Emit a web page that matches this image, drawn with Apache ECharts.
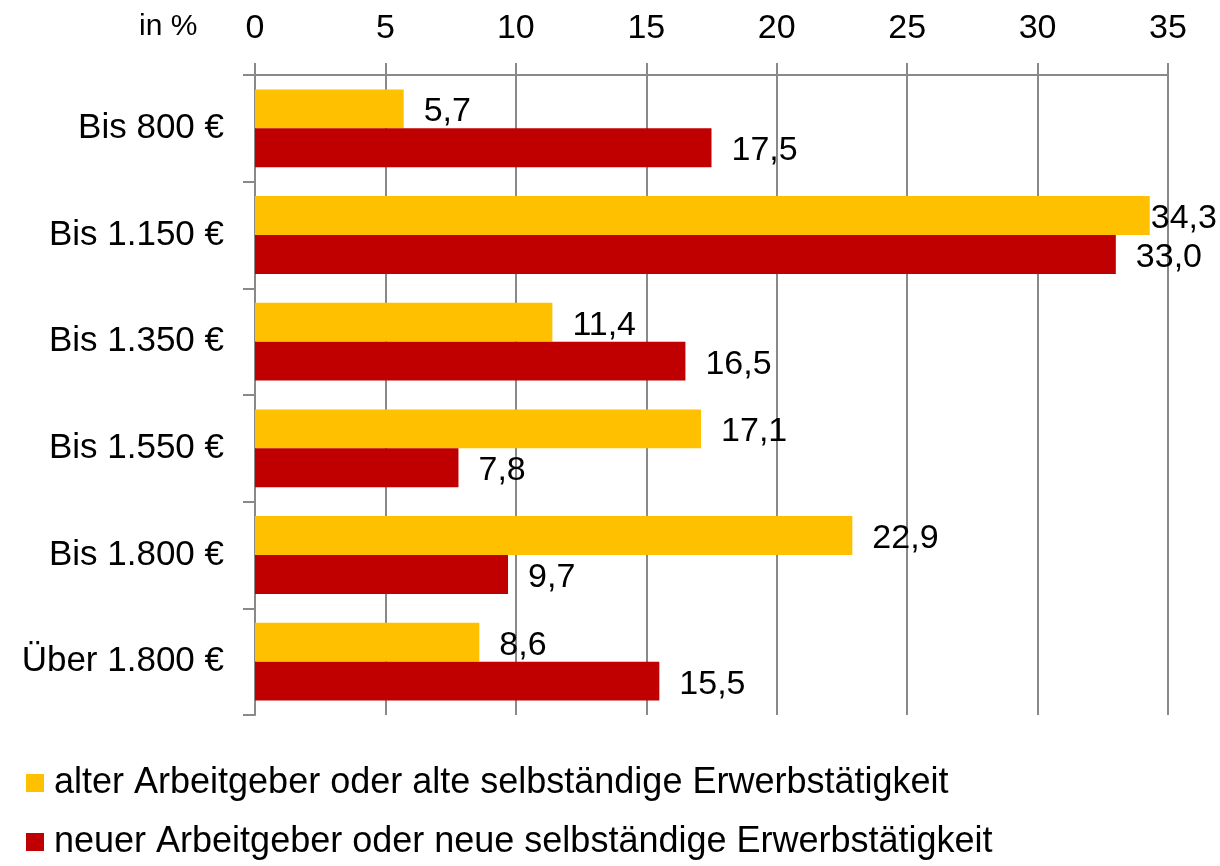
<!DOCTYPE html>
<html>
<head>
<meta charset="utf-8">
<title>Einkommen nach Arbeitgeber</title>
<script src="https://cdn.jsdelivr.net/npm/echarts@6/dist/echarts.min.js"></script>
<style>
    html, body { margin: 0; padding: 0; background: #ffffff; }
    #chart { width: 1220px; height: 866px; }
</style>
</head>
<body>
<div id="chart"></div>
<script>
// Income bands (top to bottom)
var categories = ['Bis 800 €', 'Bis 1.150 €', 'Bis 1.350 €', 'Bis 1.550 €', 'Bis 1.800 €', 'Über 1.800 €'];
var seriesNames = [
    'alter Arbeitgeber oder alte selbständige Erwerbstätigkeit',
    'neuer Arbeitgeber oder neue selbständige Erwerbstätigkeit'
];
var alterValues = [5.7, 34.3, 11.4, 17.1, 22.9, 8.6];
var neuerValues = [17.5, 33.0, 16.5, 7.8, 9.7, 15.5];
var axisTicks = [0, 5, 10, 15, 20, 25, 30, 35];

(function() {
    'use strict';

    var FONT = '"Liberation Sans", Arial, sans-serif';
    var GRAY = '#898989';

    function formatPct(v) {
        return v.toFixed(1).replace('.', ',');
    }

    // labels that would run past the plot edge sit tight against the bar
    function withLabels(values) {
        return values.map(function(v) {
            if (v > 34) {
                return { value: v, label: { distance: 1 } };
            }
            return v;
        });
    }

    function buildSeries(name, values, color) {
        return {
            name: name,
            type: 'bar',
            data: withLabels(values),
            barGap: '0%',
            barCategoryGap: '27%',
            itemStyle: { color: color },
            label: {
                show: true,
                position: 'right',
                distance: 20,
                offset: [0, 3],
                color: '#000000',
                fontSize: 34,
                fontFamily: FONT,
                formatter: function(p) { return formatPct(p.value); }
            },
            animation: false
        };
    }

    var chart = echarts.init(document.getElementById('chart'));

    var option = {
        backgroundColor: '#ffffff',
        textStyle: { fontFamily: FONT },
        title: {
            text: 'in %',
            left: 139,
            top: 12,
            padding: 0,
            textStyle: {
                fontSize: 30,
                fontWeight: 'normal',
                color: '#000000',
                fontFamily: FONT
            }
        },
        legend: {
            orient: 'vertical',
            left: 26,
            top: 765,
            padding: 0,
            itemWidth: 18,
            itemHeight: 18,
            itemGap: 23,
            icon: 'rect',
            data: seriesNames,
            textStyle: {
                fontSize: 36,
                color: '#000000',
                fontFamily: FONT,
                padding: [0, 0, 0, 5]
            }
        },
        grid: {
            left: 255,
            right: 52,
            top: 75,
            bottom: 151,
            containLabel: false
        },
        xAxis: {
            type: 'value',
            position: 'top',
            min: axisTicks[0],
            max: axisTicks[axisTicks.length - 1],
            interval: axisTicks[1] - axisTicks[0],
            axisLine: { show: true, lineStyle: { color: GRAY, width: 2 } },
            axisTick: { show: true, length: 12, lineStyle: { color: GRAY, width: 2 } },
            axisLabel: {
                color: '#000000',
                fontSize: 34,
                fontFamily: FONT,
                margin: 29
            },
            splitLine: { show: true, lineStyle: { color: GRAY, width: 2 } }
        },
        yAxis: {
            type: 'category',
            data: categories,
            inverse: true,
            axisLine: { show: true, lineStyle: { color: GRAY, width: 2 } },
            axisTick: { show: true, length: 12, lineStyle: { color: GRAY, width: 2 } },
            axisLabel: {
                color: '#000000',
                fontSize: 35,
                fontFamily: FONT,
                margin: 31
            },
            splitLine: { show: false }
        },
        series: [
            buildSeries(seriesNames[0], alterValues, '#FFC000'),
            buildSeries(seriesNames[1], neuerValues, '#C00000')
        ]
    };

    chart.setOption(option);
})();
</script>
</body>
</html>
